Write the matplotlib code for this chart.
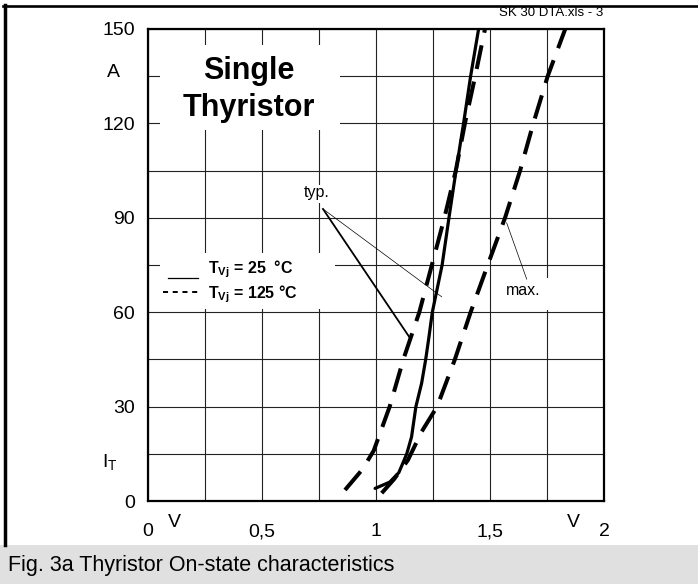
import numpy as np
import matplotlib
matplotlib.use("Agg")
import matplotlib.pyplot as plt
from matplotlib.patches import Rectangle
from matplotlib.lines import Line2D

plt.rcParams['font.family'] = ['Liberation Sans', 'DejaVu Sans']
plt.rcParams['mathtext.fontset'] = 'custom'
plt.rcParams['mathtext.rm'] = 'Liberation Sans'
plt.rcParams['mathtext.bf'] = 'Liberation Sans:bold'
plt.rcParams['mathtext.it'] = 'Liberation Sans:italic'

# on-state voltage V_T [V] vs current I_T [A]
typ25_v = [0.996, 1.06, 1.10, 1.135, 1.156, 1.175, 1.20, 1.218, 1.232, 1.247, 1.29, 1.32, 1.351, 1.384, 1.415, 1.45]
typ25_i = [4, 6, 9, 15, 20.4, 30, 37.4, 45, 52, 60, 75, 90, 105, 120, 135, 150]

typ125_v = [0.864, 0.94, 0.99, 1.06, 1.12, 1.19, 1.245, 1.30, 1.35, 1.39, 1.435, 1.478]
typ125_i = [3.5, 10, 16, 30, 45, 60, 75, 90, 105, 120, 135, 150]

max125_v = [1.025, 1.08, 1.14, 1.20, 1.268, 1.346, 1.415, 1.49, 1.566, 1.632, 1.69, 1.753, 1.83]
max125_i = [2.5, 7, 13, 22, 30, 45, 60, 75, 90, 105, 120, 135, 150]

x_ticks = [0, 0.5, 1, 1.5, 2]
x_labels = ['0', '0,5', '1', '1,5', '2']
y_ticks = [0, 30, 60, 90, 120, 150]
y_labels = ['0', '30', '60', '90', '120', '150']

W, H = 698, 584
fig = plt.figure(figsize=(W / 100, H / 100), dpi=100)
ax = fig.add_axes([148 / W, (H - 501) / H, 456 / W, 472 / H])

ax.set_xlim(0, 2)
ax.set_ylim(0, 150)
ax.set_xticks(x_ticks)
ax.set_xticklabels(x_labels)
ax.set_yticks(y_ticks)
ax.set_yticklabels(y_labels)
ax.set_xticks(np.arange(0.25, 2, 0.5), minor=True)
ax.set_yticks(np.arange(15, 150, 30), minor=True)
ax.tick_params(which='both', length=0)
ax.tick_params(axis='y', pad=9.5, labelsize=14)
ax.tick_params(axis='x', pad=16, labelsize=14)
ax.set_axisbelow(True)
ax.grid(which='both', color='#222222', lw=0.8)
for s in ax.spines.values():
    s.set_linewidth(1.6)
    s.set_zorder(4)

# white areas behind the texts (grid is interrupted there)
def mask(x0, y0, x1, y1):
    ax.add_patch(Rectangle((x0, y0), x1 - x0, y1 - y0, facecolor='white',
                           edgecolor='none', zorder=1))

mask(0.053, 117.9, 0.842, 144.9)
mask(0.053, 60.9, 0.82, 78.8)
mask(0.68, 94.7, 0.82, 100.4)
mask(1.544, 60.6, 1.807, 70.9)

ax.plot(typ25_v, typ25_i, color='black', lw=2.3, zorder=3, solid_capstyle='round')
ax.plot(typ125_v, typ125_i, color='black', lw=2.9, ls=(0, (6, 3.2)), zorder=3)
ax.plot(max125_v, max125_i, color='black', lw=2.9, ls=(0, (6, 3.2)), zorder=3)

ax.text(0.44, 136.5, 'Single', fontsize=22, fontweight='bold', ha='center', va='center', zorder=2)
ax.text(0.44, 124.8, 'Thyristor', fontsize=22, fontweight='bold', ha='center', va='center', zorder=2)

# legend
ax.add_line(Line2D([0.088, 0.219], [71.0, 71.0], color='black', lw=0.9, zorder=2))
ax.add_line(Line2D([0.066, 0.228], [66.3, 66.3], color='black', lw=1.4, ls=(0, (2.6, 2.4)), zorder=2))
ax.text(0.262, 73.6, r'$\mathbf{T_{Vj}}$ = 25  °C', fontsize=11.5, fontweight='bold',
        va='center', ha='left', zorder=2)
ax.text(0.262, 65.8, r'$\mathbf{T_{Vj}}$ = 125 °C', fontsize=11.5, fontweight='bold',
        va='center', ha='left', zorder=2)

# annotations
ax.text(0.74, 98.0, 'typ.', fontsize=11.5, ha='center', va='center', zorder=2)
ax.plot([0.7675, 1.149], [92.8, 51.8], color='black', lw=1.3, zorder=3)
ax.plot([0.7675, 1.288], [92.8, 64.9], color='black', lw=0.5, zorder=3)
ax.text(1.646, 66.8, 'max.', fontsize=11.5, ha='center', va='center', zorder=2)
ax.plot([1.661, 1.573], [70.5, 88.4], color='black', lw=0.5, zorder=3)

# unit labels
ax.text(-0.1535, 136.3, 'A', fontsize=14, ha='center', va='center', clip_on=False)
ax.text(-0.166, 12.4, r'I$_\mathregular{T}$', fontsize=14, ha='center', va='center', clip_on=False)
ax.text(0.118, -6.8, 'V', fontsize=14, ha='center', va='center', clip_on=False)
ax.text(1.864, -6.8, 'V', fontsize=14, ha='center', va='center', clip_on=False)

# page decoration
fig.text(603 / W, 1 - 15.5 / H, 'SK 30 DTA.xls - 3', fontsize=9.5, ha='right', va='baseline')
fig.add_artist(Line2D([3 / W, 1], [1 - 6 / H, 1 - 6 / H], color='black', lw=1.9))
fig.add_artist(Line2D([5 / W, 5 / W], [1 - 5 / H, 39 / H], color='black', lw=2.5))
fig.add_artist(Rectangle((0, 0), 1, 39 / H, facecolor='#e0e0e0', edgecolor='none',
                         transform=fig.transFigure))
fig.text(8 / W, 19 / H, 'Fig. 3a Thyristor On-state characteristics', fontsize=15.5,
         ha='left', va='center')

fig.savefig('out.png', dpi=100)
